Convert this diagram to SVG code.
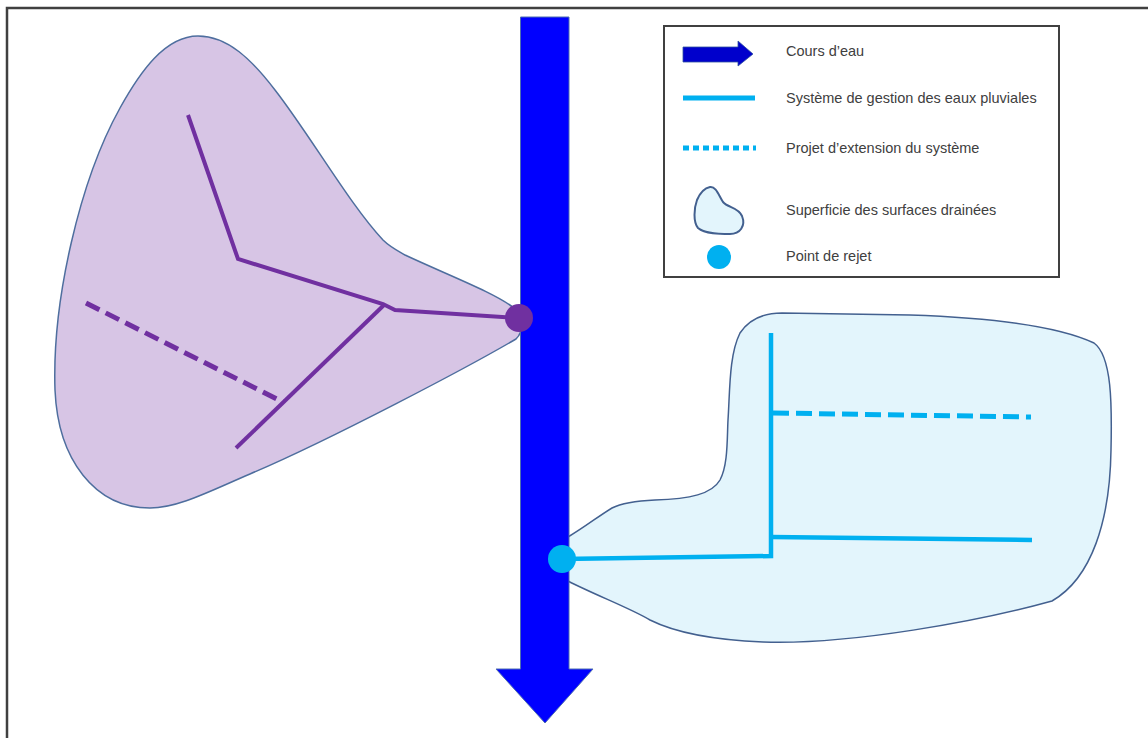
<svg xmlns="http://www.w3.org/2000/svg" width="1148" height="738" viewBox="0 0 1148 738">
<style>
.frame{fill:none;stroke:#404040;stroke-width:2.5}
.river{fill:#0000FF;stroke:#4F6FB0;stroke-width:1}
.zoneP{fill:#D7C5E5;stroke:#4E6E9E;stroke-width:1.5}
.zoneB{fill:#E3F5FC;stroke:#43608F;stroke-width:1.5}
.pl{fill:none;stroke:#7030A0;stroke-width:4;stroke-linejoin:miter}
.pd{fill:none;stroke:#7030A0;stroke-width:5;stroke-dasharray:15 7}
.bl{fill:none;stroke:#00B0F0;stroke-width:4.5}
.bd{fill:none;stroke:#00B0F0;stroke-width:5;stroke-dasharray:16 7}
.lbl{font-family:"Liberation Sans",Arial,sans-serif;font-size:14.5px;fill:#404040}
</style>
<rect x="0" y="0" width="1148" height="738" fill="#FFFFFF"/>
<rect class="frame" x="7" y="8" width="1160" height="760"/>

<g id="zone-purple">
<path class="zoneP" d="M 198,36 C 228,36 252,60 275,90 C 310,135 350,205 383,240 C 390,247 398,251 405,255 C 450,276 495,293 514,308 C 524,316 524,331 516,339 C 470,366 330,440 250,474 C 210,491 178,508 150,508 C 95,508 58,460 55,390 C 52,300 80,180 120,108 C 140,72 165,36 198,36 Z"/>
</g>

<g id="zone-blue">
<path class="zoneB" d="M 782,313 L 910,315 C 1000,318 1062,328 1094,343 C 1112,356 1112,405 1111,450 C 1110,520 1092,578 1052,601 C 980,621 850,645 763,642 C 715,640 678,634 650,620 C 630,608 595,595 568,581 L 568,537 C 585,527 600,515 612,508 C 622,503 635,501 655,500 C 690,499 712,494 720,480 C 728,465 727,440 728,420 C 730,390 729,355 740,333 C 750,318 765,313 782,313 Z"/>
</g>

<g id="river">
<path class="river" d="M 520.5,17 L 569,17 L 569,669 L 593,669 L 545,723 L 496,669 L 520.5,669 Z"/>
</g>

<g id="connectors">
<polyline class="pl" points="188,115 238,259 383,304 395,310 519,318"/>
<line class="pl" x1="384" y1="305" x2="236" y2="448"/>
<line class="pd" x1="86" y1="303" x2="283" y2="402"/>
<polyline class="bl" points="562,559 771,556 771,333"/>
<line class="bl" x1="771" y1="537" x2="1032" y2="540"/>
<line class="bd" x1="773" y1="413" x2="1031" y2="417"/>
</g>

<g id="outfall-purple">
<circle cx="519" cy="318" r="14" fill="#7030A0"/>
</g>
<g id="outfall-blue">
<circle cx="562" cy="559" r="14" fill="#00B0F0"/>
</g>

<g id="legend">
<rect x="664" y="26" width="395" height="251" fill="#FFFFFF" stroke="#404040" stroke-width="2"/>
<path d="M 683,47 L 738,47 L 738,41 L 753,54 L 738,66 L 738,62 L 683,62 Z" fill="#0000CC" stroke="#3050A0" stroke-width="0.8"/>
<line x1="683" y1="98" x2="755" y2="98" stroke="#00B0F0" stroke-width="5"/>
<line x1="683" y1="148" x2="756" y2="148" stroke="#00B0F0" stroke-width="5" stroke-dasharray="6 4"/>
<path d="M 710,187 C 716,186 719,196 723,202 C 728,208 738,207 742,216 C 746,226 740,234 730,234 C 720,234 705,234 698,228 C 693,222 694,208 697,200 C 700,193 705,188 710,187 Z" fill="#E3F5FC" stroke="#43608F" stroke-width="2"/>
<circle cx="719" cy="257" r="12" fill="#00B0F0"/>
<text class="lbl" x="786" y="56">Cours d’eau</text>
<text class="lbl" x="786" y="103">Système de gestion des eaux pluviales</text>
<text class="lbl" x="786" y="153">Projet d’extension du système</text>
<text class="lbl" x="786" y="215">Superficie des surfaces drainées</text>
<text class="lbl" x="786" y="261">Point de rejet</text>
</g>
</svg>
